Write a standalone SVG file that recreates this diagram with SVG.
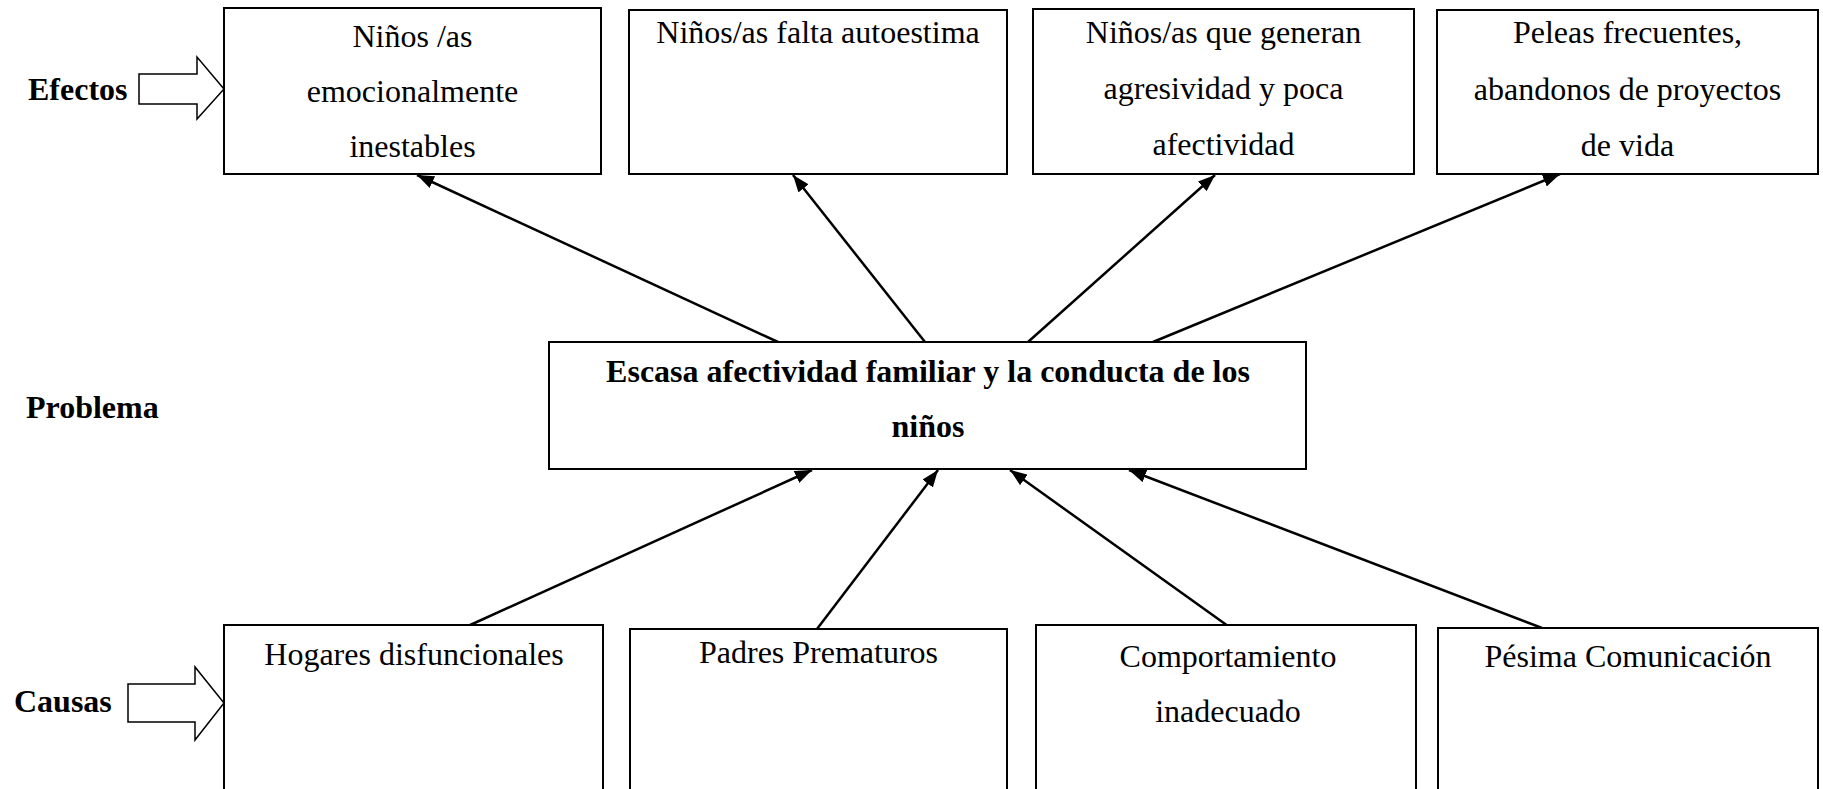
<svg xmlns="http://www.w3.org/2000/svg" width="1823" height="789" viewBox="0 0 1823 789">
<style>
.box{fill:#fff;stroke:#000;stroke-width:2}
.t{font-family:"Liberation Serif","Times New Roman",serif;font-size:32px;text-anchor:middle;fill:#000}
.b{font-weight:bold}
.l{text-anchor:start}
.c{stroke:#000;stroke-width:2.5;fill:none;marker-end:url(#ah)}
.blk{fill:#fff;stroke:#000;stroke-width:1.5}
</style>
<defs>
<marker id="ah" markerWidth="17" markerHeight="13" refX="17" refY="6.5" orient="auto" markerUnits="userSpaceOnUse">
<path d="M0,0 L17,6.5 L0,13 Z" fill="#000"/>
</marker>
</defs>
<rect width="1823" height="789" fill="#fff"/>
<g id="labels">
<text class="t b l" x="28" y="100">Efectos</text>
<polygon class="blk" points="139,74 197,74 197,57 224,89 197,119 197,104 139,104"/>
<text class="t b l" x="26" y="418">Problema</text>
<text class="t b l" x="14" y="712">Causas</text>
<polygon class="blk" points="128,684 195,684 195,667 224,703 195,740 195,722 128,722"/>
</g>
<g id="connectors">
<line class="c" x1="778" y1="342" x2="417" y2="175"/>
<line class="c" x1="925" y1="342" x2="793" y2="175"/>
<line class="c" x1="1028" y1="342" x2="1215" y2="175"/>
<line class="c" x1="1153" y1="342" x2="1560" y2="174"/>
<line class="c" x1="468" y1="626" x2="812" y2="470"/>
<line class="c" x1="817" y1="629" x2="938" y2="470"/>
<line class="c" x1="1228" y1="626" x2="1010" y2="470"/>
<line class="c" x1="1542" y1="628" x2="1129" y2="470"/>
</g>
<g id="e1">
<rect class="box" x="224" y="8" width="377" height="166"/>
<text class="t" x="412.5" y="47">Niños /as</text>
<text class="t" x="412.5" y="102">emocionalmente</text>
<text class="t" x="412.5" y="157">inestables</text>
</g>
<g id="e2">
<rect class="box" x="629" y="10" width="378" height="164"/>
<text class="t" x="818" y="43">Niños/as falta autoestima</text>
</g>
<g id="e3">
<rect class="box" x="1033" y="9" width="381" height="165"/>
<text class="t" x="1223.5" y="43">Niños/as que generan</text>
<text class="t" x="1223.5" y="99">agresividad y poca</text>
<text class="t" x="1223.5" y="155">afectividad</text>
</g>
<g id="e4">
<rect class="box" x="1437" y="10" width="381" height="164"/>
<text class="t" x="1627.5" y="43">Peleas frecuentes,</text>
<text class="t" x="1627.5" y="100">abandonos de proyectos</text>
<text class="t" x="1627.5" y="156">de vida</text>
</g>
<g id="problema">
<rect class="box" x="549" y="342" width="757" height="127"/>
<text class="t b" x="928" y="382">Escasa afectividad familiar y la conducta de los</text>
<text class="t b" x="928" y="437">niños</text>
</g>
<g id="c1">
<rect class="box" x="224" y="625" width="379" height="200"/>
<text class="t" x="414" y="665">Hogares disfuncionales</text>
</g>
<g id="c2">
<rect class="box" x="630" y="629" width="377" height="200"/>
<text class="t" x="818.5" y="663">Padres Prematuros</text>
</g>
<g id="c3">
<rect class="box" x="1036" y="625" width="380" height="200"/>
<text class="t" x="1228" y="667">Comportamiento</text>
<text class="t" x="1228" y="722">inadecuado</text>
</g>
<g id="c4">
<rect class="box" x="1438" y="628" width="380" height="200"/>
<text class="t" x="1628" y="667">Pésima Comunicación</text>
</g>
</svg>
